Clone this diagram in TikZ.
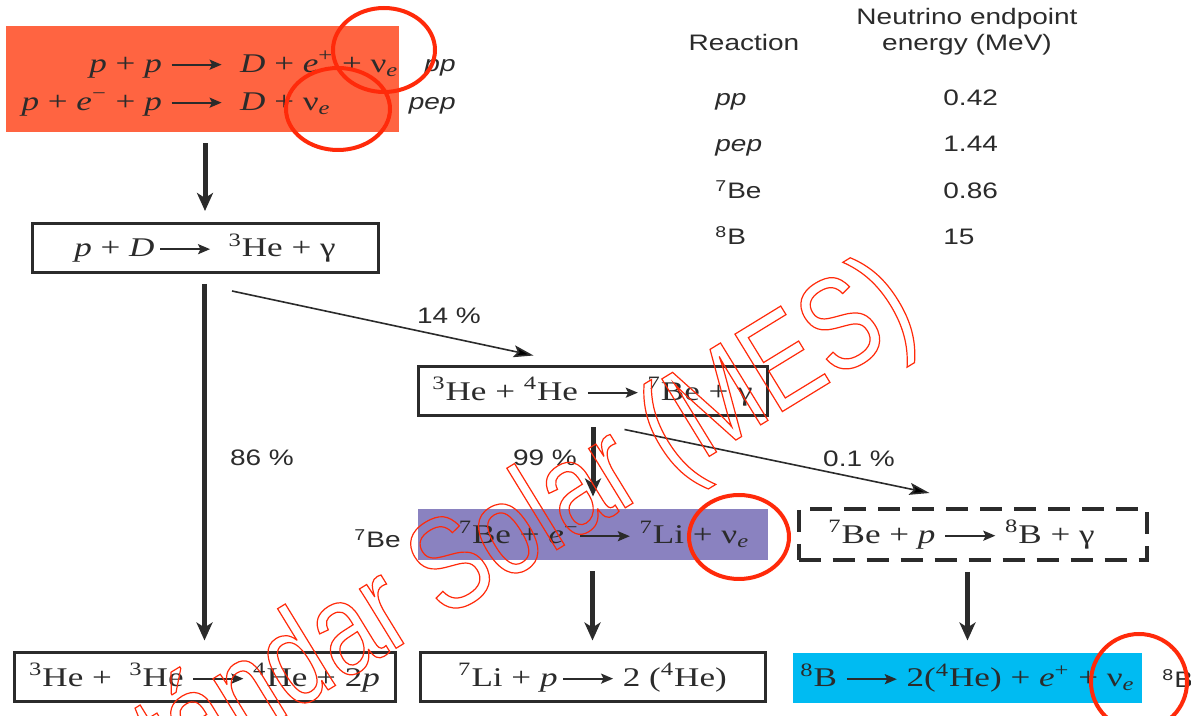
\documentclass[tikz,border=0pt]{standalone}
\usepackage{graphicx}
\usepackage{fontspec}
\setmainfont{Liberation Serif}[FakeStretch=1.3]
\setsansfont{Liberation Sans}[FakeStretch=1.25]
\newfontfamily\wmfont{Liberation Sans}[FakeStretch=0.78]
\usetikzlibrary{arrows.meta,positioning,calc}
\definecolor{rxLine}{HTML}{2B2B2B}
\definecolor{rxPP}{HTML}{FF6441}
\definecolor{rxBe}{HTML}{8A82C0}
\definecolor{rxB}{HTML}{00BBF2}
\definecolor{rxMark}{HTML}{FF2A0A}
\newcommand{\rxfont}{\fontsize{13.5}{19}\selectfont}
\newcommand{\tabfont}{\sffamily\fontsize{11.2}{13}\selectfont}
\newcommand{\yields}{\tikz[baseline=-0.6ex]\draw[line width=1pt, -{Stealth[length=6pt, width=5pt, inset=1.2pt]}] (0pt,0pt) -- (25pt,0pt);}
\newcommand{\nue}{ν\textsubscript{\textit{e}}}
\newcommand{\iso}[2]{\textsuperscript{#1}#2}
\newcommand{\outlined}[1]{\special{pdf:literal direct 1 Tr 0.6 w}#1\special{pdf:literal direct 0 Tr}}
\tikzset{
  rx/.style={draw=rxLine, line width=1.5pt, inner sep=2pt, font=\rxfont, text=rxLine,
    minimum height=24.5pt},
  rxfill/.style={rx, draw=none, fill=#1},
  rxdash/.style={rx, line width=2pt, dash pattern=on 11pt off 6pt},
  tab/.style={font=\tabfont, text=rxLine, inner sep=0pt},
  flow/.style={draw=rxLine, line width=2.5pt, -{Stealth[length=9pt, width=8pt, inset=2.5pt]},
    shorten <=5pt, shorten >=5.5pt},
  branch/.style={draw=rxLine, line width=0.8pt, -{Stealth[length=10pt, width=6pt, inset=2pt]}},
  ring/.style={draw=rxMark, line width=2pt},
  wmark/.style={font=\wmfont\fontsize{66}{72}\selectfont, text=rxMark, inner sep=0pt},
}

\begin{document}
\begin{tikzpicture}[x=0.5pt, y=-0.5pt]
\useasboundingbox (0,0) rectangle (1191,716);
\fill[white] (0,0) rectangle (1191,716);
% pp chain boxes
\node[rxfill=rxPP, minimum width=196.5pt, minimum height=53pt] (pp) at (202,79) {};
\node[rx, text=rxLine, draw=none, inner sep=0pt] (pptxt) at (210,83.5) {%
  \begin{tabular}{@{}r@{\ }c@{\ \ }l@{}}
  \textit{p} + \textit{p} & \yields & \textit{D} + \textit{e}\textsuperscript{+} + \nue\\
  \textit{p} + \textit{e}\textsuperscript{−} + \textit{p} & \yields & \textit{D} + \nue
  \end{tabular}};
\node[rx, minimum width=173pt] (phd) at (205,248) {\textit{p} + \textit{D}\,\yields\ \ \iso{3}{He} + γ};
\node[rx, minimum width=174.5pt] (hebe) at (592.5,391.5) {\iso{3}{He} + \iso{4}{He} \yields{} \iso{7}{Be} + γ};
\node[rxfill=rxBe, minimum width=175pt, minimum height=25.5pt] (beli) at (593,534.5)
  {\hspace*{11pt}\iso{7}{Be} + \textit{e}\textsuperscript{−}\yields{} \iso{7}{Li} + \nue};
\node[rxdash, minimum width=174pt, minimum height=25.5pt, right=13.5pt of beli] (beb)
  {\iso{7}{Be} + \textit{p} \yields{} \iso{8}{B} + γ\hspace*{11pt}};
\node[rx, minimum width=190.5pt] (hehe) at (204.5,677.5) {\iso{3}{He} + \ \iso{3}{He} \yields{} \iso{4}{He} + 2\textit{p}};
\node[rx, minimum width=172.5pt] (lip) at (592.5,677.5) {\iso{7}{Li} + \textit{p}\,\yields{} 2 (\iso{4}{He})};
\node[rxfill=rxB, minimum width=174.5pt, minimum height=25pt] (bdec) at (967.5,678)
  {\iso{8}{B} \yields{} 2(\iso{4}{He}) + \textit{e}\textsuperscript{+} + \nue};
% side tags
\node[tab, anchor=base east] (tpp) at (456,72) {\textit{pp}};
\node[tab, anchor=base east] (tpep) at (456,110) {\textit{pep}};
\node[tab, anchor=base east] (tbe) at (401,548) {\iso{7}{Be}};
\node[tab, anchor=base west] (tb) at (1162,688) {\iso{8}{B}};
% connectors
\foreach \u/\v in {pp/phd, phd/hehe, hebe/beli, beli/lip, beb/bdec}
  \draw[flow] (\u.south -| \v.north) -- (\v.north);
\draw[branch] ($(phd.south)+(27,17)$) -- ($(hebe.north west)+(117,-10)$);
\draw[branch] ($(hebe.south)+(32,12)$) -- ($(beb.north west)+(133,-14)$);
\foreach \n/\t/\x/\y in {a/14/449/324, b/86/262/466, c/99/545/466, d/0.1/859/467}
  \node[tab, anchor=base] (pc\n) at (\x,\y) {\t\ \%};
% endpoint table
\node[tab, anchor=base] (hdR) at (744,51) {Reaction};
\node[tab, anchor=base] (hdE) at (967,25) {Neutrino endpoint};
\node[tab, anchor=base] (hdM) at (967,51) {energy (MeV)};
\foreach \n/\r/\e/\y in {1/{\textit{pp}}/0.42/106, 2/{\textit{pep}}/1.44/152,
    3/{\iso{7}{Be}}/0.86/199, 4/{\iso{8}{B}}/15/245} {
  \node[tab, anchor=base west] (rr\n) at (715,\y) {\r};
  \node[tab, anchor=base west] (re\n) at (943,\y) {\e};
}
% neutrino rings
\draw[ring] (384,50) ellipse [x radius=25.5pt, y radius=21pt];
\draw[ring] (338,109) ellipse [x radius=26pt, y radius=20.5pt];
\draw[ring] (739,537) ellipse [x radius=25pt, y radius=21pt];
\draw[ring] (1139,682) ellipse [x radius=24pt, y radius=24pt];
% watermark
\node[wmark, rotate=31.5, anchor=base east] (wm) at (922,326) {\outlined{Estándar Solar (MES)}};
\end{tikzpicture}
\end{document}
